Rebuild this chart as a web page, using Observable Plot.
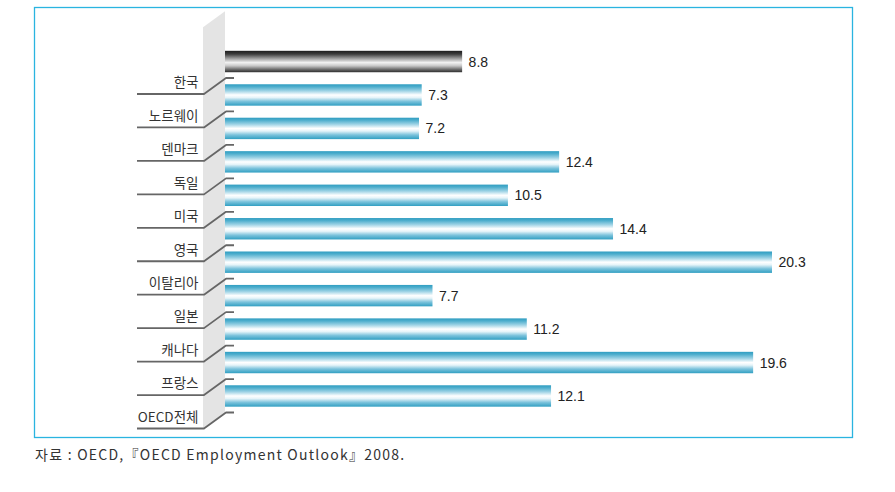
<!DOCTYPE html>
<html>
<head>
<meta charset="utf-8">
<script src="https://cdn.jsdelivr.net/npm/d3@7"></script>
<script src="https://cdn.jsdelivr.net/npm/@observablehq/plot@0.6"></script>
<style>
  html, body { margin: 0; padding: 0; background: #fff; }
  #wrap { position: relative; width: 895px; height: 492px; }
  #caption { position: absolute; left: 35px; top: 444px; font: 14px "Noto Sans CJK KR", "Liberation Sans", sans-serif; color: #333; letter-spacing: 1.25px; white-space: nowrap; }
</style>
</head>
<body>
<div id="wrap">
  <div id="chart"></div>
  <div id="caption">자료 : OECD,『OECD Employment Outlook』2008.</div>
</div>
<script>
const categories = ["한국", "노르웨이", "덴마크", "독일", "미국", "영국", "이탈리아", "일본", "캐나다", "프랑스", "OECD전체"];
const values = [8.8, 7.3, 7.2, 12.4, 10.5, 14.4, 20.3, 7.7, 11.2, 19.6, 12.1];
const highlight = "한국";

const data = categories.map((name, i) => ({name, value: values[i]}));
const FONT = "'Noto Sans CJK KR', 'Liberation Sans', sans-serif";
const NUMFONT = "'Liberation Sans', Arial, sans-serif";

const ns = "http://www.w3.org/2000/svg";
function el(tag, attrs, parent) {
  const e = document.createElementNS(ns, tag);
  for (const k in attrs) e.setAttribute(k, attrs[k]);
  if (parent) parent.appendChild(e);
  return e;
}

// decorations: frame, gradient defs, wall and leader lines (positions derived from the y scale)
function decor(index, scales) {
  const g = el("g", {});
  const defs = el("defs", {}, g);
  const gb = el("linearGradient", {id: "gb", x1: 0, y1: 0, x2: 0, y2: 1}, defs);
  [[0, "#2f9dc1"], [0.12, "#4eaecd"], [0.3, "#9ad1e4"], [0.5, "#ffffff"], [0.62, "#e6f4f9"], [0.8, "#7cc3dc"], [1, "#319fc2"]]
    .forEach(([o, c]) => el("stop", {offset: o, "stop-color": c}, gb));
  const gk = el("linearGradient", {id: "gk", x1: 0, y1: 0, x2: 0, y2: 1}, defs);
  [[0, "#1e1e1e"], [0.15, "#3c3c3c"], [0.35, "#9a9a9a"], [0.55, "#f2f2f2"], [0.7, "#c8c8c8"], [0.88, "#666"], [1, "#2e2e2e"]]
    .forEach(([o, c]) => el("stop", {offset: o, "stop-color": c}, gk));

  // outer frame
  el("rect", {x: 34.5, y: 7.5, width: 818, height: 430, fill: "none", stroke: "#2ab4e0", "stroke-width": 1.3}, g);

  const y = scales.y;
  const bw = y.bandwidth ? y.bandwidth() : 21.5;
  const step = y.step ? y.step() : 33.45;
  const x0 = scales.x(0);
  const centers = categories.map(c => y(c) + bw / 2);
  const last = centers[centers.length - 1];
  const wallL = x0 - 22;
  const rise = 16;
  const topY = centers[0] - step * 1.5;
  // wall
  el("path", {
    d: `M${wallL},${topY + rise}L${x0},${topY}L${x0},${last + 17}L${wallL},${last + 17 + rise}Z`,
    fill: "#e4e4e4"
  }, g);
  // leader lines
  centers.forEach(cy => {
    const hy = cy + 32.5, uy = cy + 16.5;
    el("path", {
      d: `M137,${hy}L${wallL + 1},${hy}L${x0 + 1},${uy}L${x0 + 9},${uy}`,
      fill: "none", stroke: "#666", "stroke-width": 1.8, "stroke-linejoin": "round"
    }, g);
  });
  return g;
}

const chart = Plot.plot({
  width: 895,
  height: 440,
  margin: 0,
  style: {background: "transparent", overflow: "visible"},
  x: {domain: [0, 20.3], range: [225, 772], axis: null},
  y: {domain: categories, range: [44.8, 412.7], paddingInner: 0.36, paddingOuter: 0.18, axis: null, round: false},
  marks: [
    decor,
    Plot.barX(data.filter(d => d.name !== highlight), {x: "value", y: "name", fill: "url(#gb)"}),
    Plot.barX(data.filter(d => d.name === highlight), {x: "value", y: "name", fill: "url(#gk)"}),
    Plot.text(data, {x: "value", y: "name", text: d => d.value.toFixed(1), dx: 6, textAnchor: "start", fontSize: 14, fill: "#222", fontFamily: NUMFONT}),
    Plot.text(data, {y: "name", text: "name", frameAnchor: "left", dx: 198, dy: 21, textAnchor: "end", fontSize: 13.5, fill: "#333", fontFamily: FONT})
  ]
});
document.getElementById("chart").appendChild(chart);
</script>
</body>
</html>
